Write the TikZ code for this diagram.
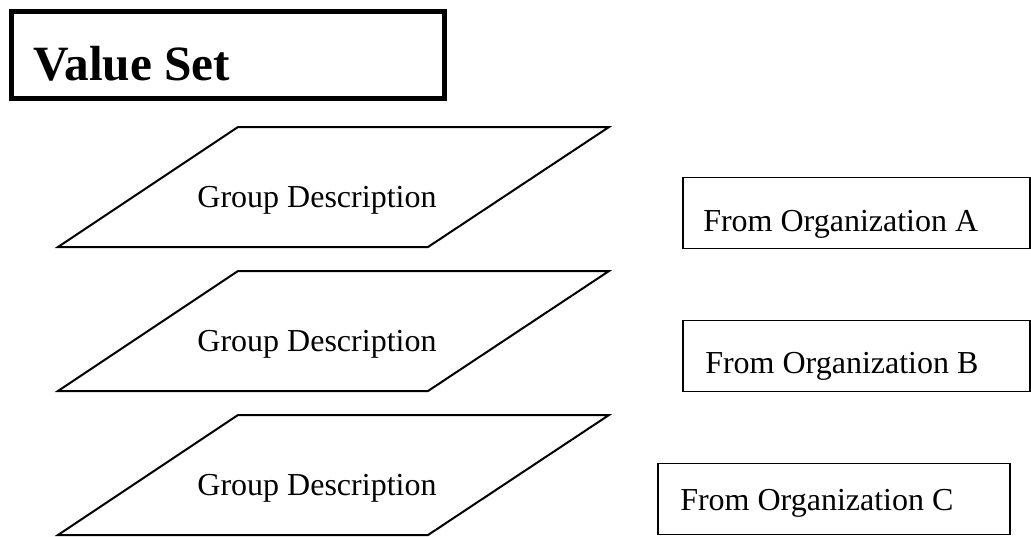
\documentclass[tikz,border=0pt]{standalone}
\usepackage{fontspec}
\setmainfont{Liberation Serif}
\begin{document}
\begin{tikzpicture}[x=0.75pt, y=-0.75pt,
    title/.style={draw, line width=3.75pt, minimum width=324.75pt, minimum height=64.9pt},
    para/.style ={draw, line width=1.5pt, line join=miter},
    org/.style  ={draw, line width=1.1pt, minimum height=53.25pt},
    lbl/.style  ={anchor=base west, inner sep=0pt, font=\fontsize{24pt}{28pt}\selectfont},
  ]
  \useasboundingbox (0,0) rectangle (1031,536);
  % title box
  \node[title] (vs) at (228,54.75) {};
  \node[anchor=base west, inner sep=0pt, font=\fontsize{37pt}{43pt}\selectfont\bfseries] (vstxt) at (33,80) {Value Set};

  % group descriptions
  \foreach \dy/\n in {0/grpa,144/grpb,288/grpc}{
    \draw[para] (238,127+\dy) -- (609,127+\dy) -- (428,247+\dy) -- (58,247+\dy) -- cycle;
    \node[lbl, anchor=base] (\n) at (317,207+\dy) {Group Description};
  }

  % organizations
  \node[org, minimum width=260.25pt] (orga) at (856.5,213) {};
  \node[lbl] (orgatxt) at (703,231) {From Organization A};
  \node[org, minimum width=260.25pt] (orgb) at (856.5,356) {};
  \node[lbl] (orgbtxt) at (705,373) {From Organization B};
  \node[org, minimum width=264pt] (orgc) at (834,499) {};
  \node[lbl] (orgctxt) at (680,510) {From Organization C};
\end{tikzpicture}
\end{document}
